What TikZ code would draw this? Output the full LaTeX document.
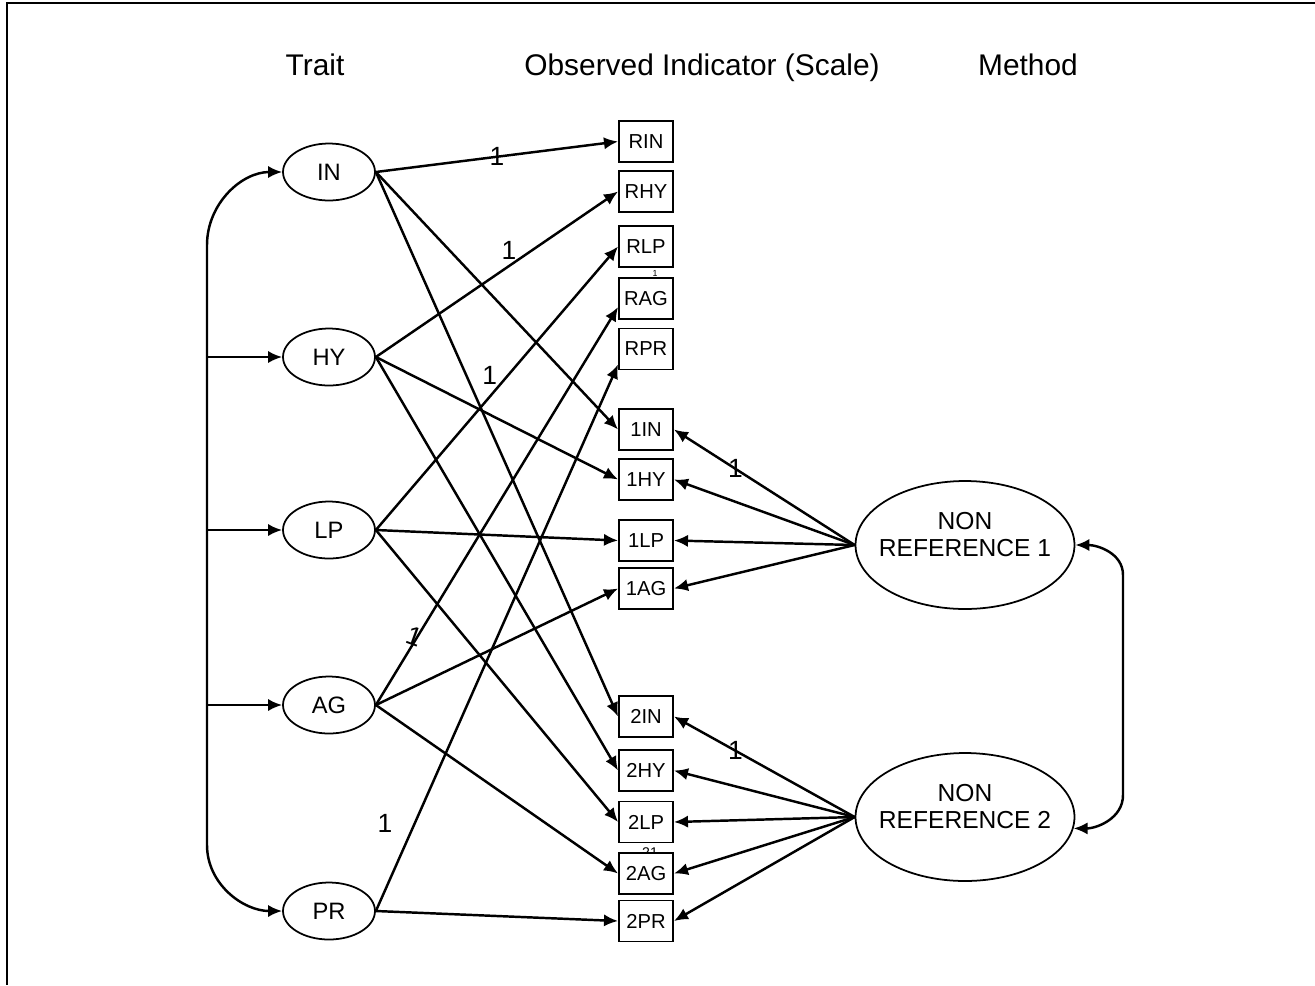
\documentclass[tikz,border=0pt]{standalone}
\usepackage{fontspec}
\setmainfont{Liberation Sans}
\usetikzlibrary{arrows.meta,shapes.geometric}
\tikzset{>={Latex[length=8pt,width=7pt]}}

\begin{document}
\begin{tikzpicture}[x=0.02cm,y=-0.02cm]
  \useasboundingbox (0,0) rectangle (1315,985);
  % trait = left ellipses, indic = observed scale boxes, method = right ellipses
  \tikzstyle{trait}=[ellipse, draw=black, line width=1pt, minimum width=1.84cm, minimum height=1.14cm, inner sep=0pt, font=\fontsize{13.5}{15}\selectfont]
  \tikzstyle{method}=[ellipse, draw=black, line width=1pt, minimum width=4.38cm, minimum height=2.56cm, inner sep=0pt]
  \tikzstyle{nrtext}=[align=center, yshift=6pt, inner sep=0pt, font=\fontsize{14}{15.5}\selectfont]
  \tikzstyle{indic}=[rectangle, draw=black, fill=white, line width=1.1pt, minimum width=1.08cm, minimum height=0.82cm, inner sep=0pt, font=\fontsize{11.5}{13}\selectfont]
  \tikzstyle{heading}=[anchor=base, font=\fontsize{17}{19}\selectfont]
  \tikzstyle{one}=[font=\fontsize{15}{17}\selectfont, inner sep=0pt]
  \tikzstyle{link}=[->, line width=1.4pt]
  \tikzstyle{every edge}=[draw, ->, line width=1.4pt]

  % frame
  \draw[line width=1.1pt] (1315,3) -- (7,3) -- (7,985);

  \node[heading] (tTrait) at (315,75) {Trait};
  \node[heading] (tObs) at (702,75) {Observed Indicator (Scale)};
  \node[heading] (tMethod) at (1028,75) {Method};

  \node (IN) [trait] at (329,172) {IN};
  \node (HY) [trait] at (329,357) {HY};
  \node (LP) [trait] at (329,530) {LP};
  \node (AG) [trait] at (329,705) {AG};
  \node (PR) [trait] at (329,911) {PR};

  \node (stray1) [font=\fontsize{5}{6}\selectfont, inner sep=0pt] at (655,273) {1};
  \node (stray21) [font=\fontsize{8}{9}\selectfont, inner sep=0pt] at (650,853) {21};

  \node (IN-R) [indic] at (646,141.5) {RIN};
  \node (HY-R) [indic] at (646,191.5) {RHY};
  \node (LP-R) [indic] at (646,246.5) {RLP};
  \node (AG-R) [indic] at (646,298.5) {RAG};
  \node (PR-R) [indic] at (646,349) {RPR};
  \node (IN-1) [indic] at (646,429.5) {1IN};
  \node (HY-1) [indic] at (646,479.5) {1HY};
  \node (LP-1) [indic] at (646,540.5) {1LP};
  \node (AG-1) [indic] at (646,588.5) {1AG};
  \node (IN-2) [indic] at (646,716.5) {2IN};
  \node (HY-2) [indic] at (646,770.5) {2HY};
  \node (LP-2) [indic] at (646,822) {2LP};
  \node (AG-2) [indic] at (646,873.5) {2AG};
  \node (PR-2) [indic] at (646,921) {2PR};

  \node (NR1) [method, label={[nrtext]center:NON\\REFERENCE 1}] at (965,545) {};
  \node (NR2) [method, label={[nrtext]center:NON\\REFERENCE 2}] at (965,817) {};

  % trait loadings
  \draw (IN.east) edge node[one, pos=0.5] {1} (IN-R.west)
        (IN.east) edge (IN-1.west)
        (IN.east) edge (IN-2.west);
  \draw (HY.east) edge node[one, pos=0.55, above=3pt] {1} (HY-R.west)
        (HY.east) edge (HY-1.west)
        (HY.east) edge (HY-2.west);
  \draw (LP.east) edge node[one, pos=0.47, above=6pt] {1} (LP-R.west)
        (LP.east) edge (LP-1.west)
        (LP.east) edge (LP-2.west);
  \draw (AG.east) edge node[one, pos=0.14, rotate=-20, yshift=8pt] {1} (AG-R.197)
        (AG.east) edge (AG-1.west)
        (AG.east) edge (AG-2.west);
  \draw (PR.east) edge node[one, pos=0.16, left=12pt] {1} (PR-R.209)
        (PR.east) edge (PR-2.west);

  % method loadings
  \draw (NR1.west) edge node[one, pos=0.66] {1} (IN-1.east)
        (NR1.west) edge (HY-1.east)
        (NR1.west) edge (LP-1.east)
        (NR1.west) edge (AG-1.east);
  \draw (NR2.west) edge node[one, pos=0.66] {1} (IN-2.east)
        (NR2.west) edge (HY-2.east)
        (NR2.west) edge (LP-2.east)
        (NR2.west) edge (AG-2.east)
        (NR2.west) edge (PR-2.east);

  % correlations
  \coordinate (lt) at (207,245);
  \coordinate (lb) at (207,845);
  \draw[link, <->] (IN.west) to[out=180, in=90] (lt) -- (lb) to[out=-90, in=180] (PR.west);
  \draw[link] (lt |- HY.west) -- (HY.west);
  \draw[link] (lt |- LP.west) -- (LP.west);
  \draw[link] (lt |- AG.west) -- (AG.west);

  \coordinate (rt) at (1123,575);
  \coordinate (rb) at (1123,795);
  \draw[link, <->] (NR1.east) to[out=0, in=90] (rt) -- (rb) to[out=-90, in=0] (NR2.-6);
\end{tikzpicture}
\end{document}
